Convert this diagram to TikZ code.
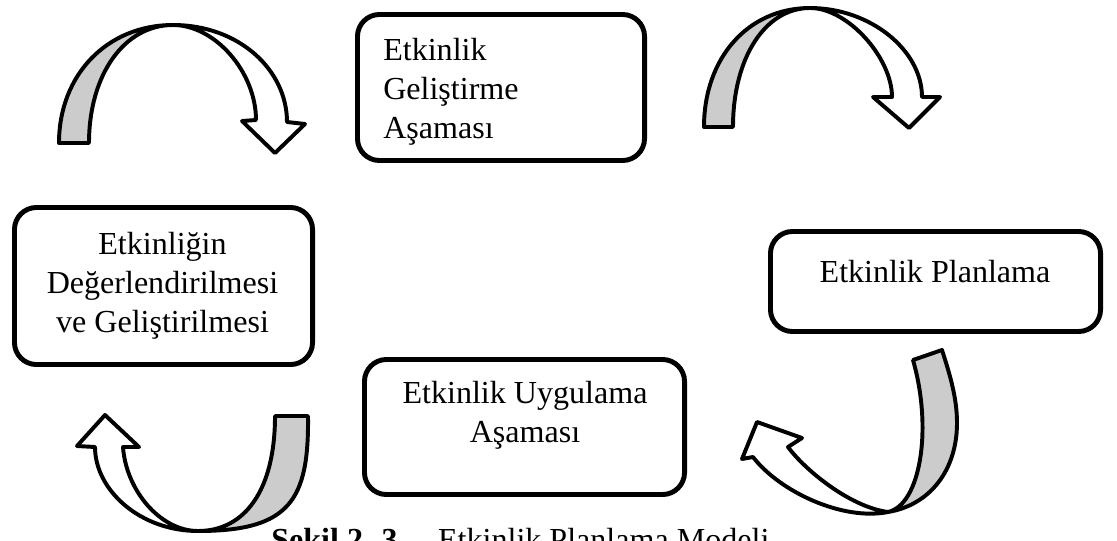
\documentclass[tikz,border=0pt]{standalone}
\usepackage{fontspec}
\setmainfont{Liberation Serif}
\begin{document}
\begin{tikzpicture}[x=0.025cm, y=-0.025cm,
  stagebox/.style={draw, line width=3.5pt, rounded corners=0.55cm, inner sep=0pt, fill=white},
  stagetext/.style={font=\fontsize{22.8}{27.5}\selectfont, inner sep=0pt},
  bandline/.style={draw, line width=2.8pt, line join=round},
  backface/.style={bandline, fill=black!20},
  frontface/.style={bandline, fill=white}]
\useasboundingbox (0,0) rectangle (1117,540);
\clip (0,0) rectangle (1117,540);

% stage boxes
\node[stagebox, minimum width=7.175cm, minimum height=3.65cm] (dev) at (501,87.5) {};
\node[stagebox, minimum width=7.45cm, minimum height=3.925cm] (eval) at (163.5,286) {};
\node[stagebox, minimum width=8.25cm, minimum height=2.5cm] (plan) at (935.5,281.5) {};
\node[stagebox, minimum width=8.0cm, minimum height=3.375cm] (impl) at (524.5,427) {};

% stage texts (the base anchor of a multi-line node sits on its last line)
\node[stagetext, anchor=base west, align=left] (devtext) at (383,138) {Etkinlik\\Geliştirme\\Aşaması};
\node[stagetext, anchor=base, align=center] (evaltext) at (162.5,332) {Etkinliğin\\Değerlendirilmesi\\ve Geliştirilmesi};
\node[stagetext, anchor=base] (plantext) at (935,282) {Etkinlik Planlama};
\node[stagetext, anchor=base, align=center] (impltext) at (525,442) {Etkinlik Uygulama\\Aşaması};

% curved arrow, top left
\draw[backface] (59,143) .. controls (59,75) and (107,25) .. (173,25)
  .. controls (124,25) and (89,75) .. (89,143) -- cycle;
\draw[frontface] (173,25) .. controls (239,25) and (287,70) .. (287,122)
  -- (305,124) -- (275,153) -- (242,121) -- (256,120)
  .. controls (256,72) and (215,25) .. (173,25) -- cycle;

% curved arrow, top right
\draw[backface] (704,127) .. controls (704,58) and (748,8) .. (810,8)
  .. controls (765,8) and (733,58) .. (733,127) -- cycle;
\draw[frontface] (810,8) .. controls (870,8) and (922,50) .. (922,97)
  -- (940,97) -- (909,128) -- (873,97) -- (892,97)
  .. controls (892,58) and (848,8) .. (810,8) -- cycle;

% curved arrow, bottom right
\draw[backface] (942,350) .. controls (950,375) and (957,398) .. (957,423)
  .. controls (957,470) and (930,505) .. (888,512)
  .. controls (920,505) and (933,430) .. (913,360) -- cycle;
\draw[frontface] (888,512) .. controls (843,521) and (780,492) .. (753,457)
  -- (742,459) -- (757,422) -- (802,438) -- (788,447)
  .. controls (805,470) and (850,507) .. (888,512) -- cycle;

% curved arrow, bottom left
\draw[backface] (308,416) .. controls (309,500) and (290,531) .. (198,531)
  .. controls (245,531) and (275,490) .. (275,416) -- cycle;
\draw[frontface] (198,531) .. controls (140,531) and (95,490) .. (95,447)
  -- (77,446) -- (105,415) -- (139,447) -- (123,447)
  .. controls (126,490) and (160,531) .. (198,531) -- cycle;

% caption
\node[stagetext, anchor=base west] (caption) at (271,550)
  {\textbf{Şekil 2. 3.}\hspace{23pt}Etkinlik Planlama Modeli};
\end{tikzpicture}
\end{document}
